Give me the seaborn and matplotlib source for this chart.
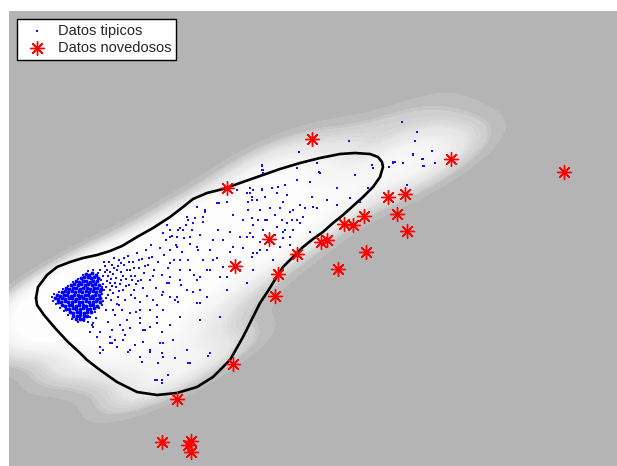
import matplotlib
matplotlib.use('Agg')
import matplotlib.pyplot as plt
from matplotlib.colors import LinearSegmentedColormap
import pandas as pd
import seaborn as sns

# Datos (coordenadas de la figura, eje y hacia abajo)
nucleo_denso = [
    (86,274),(89,275),(92,273),(96,275),
    (81,278),(84,277),(88,277),(91,278),(94,277),(98,278),
    (76,281),(79,282),(83,281),(86,281),(90,282),(93,281),(97,281),
    (71,285),(74,284),(78,285),(81,284),(85,285),(88,284),(92,285),(95,284),(99,285),
    (66,288),(69,289),(73,288),(76,288),(80,289),(83,288),(87,288),(90,289),(94,288),(97,288),(101,289),
    (62,292),(65,291),(68,292),(72,291),(75,292),(79,291),(82,292),(86,291),(89,292),(93,291),(96,292),(100,291),
    (57,295),(60,296),(64,295),(67,295),(71,296),(74,295),(78,295),(81,296),(85,295),(88,295),(92,296),(95,295),(99,295),
    (55,298),(58,299),(62,298),(65,299),(69,298),(72,298),(76,299),(79,298),(83,298),(86,299),(90,298),(93,298),(97,299),(100,298),
    (58,302),(61,302),(65,301),(68,302),(72,302),(75,301),(79,302),(82,302),(86,301),(89,302),(93,302),(96,301),(100,302),
    (62,305),(65,306),(69,305),(72,305),(76,306),(79,305),(83,305),(86,306),(90,305),(93,305),(97,306),
    (66,309),(69,309),(73,308),(76,309),(80,309),(83,308),(87,309),(90,309),(94,308),
    (70,312),(73,313),(77,312),(80,312),(84,313),(87,312),(91,312),
    (73,316),(77,316),(80,315),(84,316),(87,316),
    (76,319),(80,319),(83,319),
]

puntos_tipicos = [
    # transicion
    (100,270),(103,276),(105,266),(107,281),(104,290),(108,295),(102,305),(106,310),
    (110,272),(112,286),(111,300),(109,262),(114,268),(116,278),(113,293),(117,304),
    (115,315),(119,260),(121,272),(120,284),(123,290),(118,297),(124,265),(126,279),
    (125,300),(122,310),(128,256),(130,270),(129,285),(131,295),(127,320),(133,262),
    (135,276),(134,290),(137,253),(139,268),(138,281),(140,302),(136,312),(142,259),
    (144,273),(143,288),(146,250),(148,265),(147,296),(150,280),(152,257),(154,270),
    (151,245),(156,288),(158,262),(160,248),(157,305),(162,275),(164,255),(166,240),
    (163,292),(168,268),(170,250),(172,236),(169,283),(174,260),(176,245),(178,230),
    (175,300),(180,270),(182,252),(184,238),(186,225),(181,285),(188,260),(190,244),
    (192,230),(195,218),(194,275),(198,250),(200,235),(203,222),(205,210),(200,290),
    (108,322),(112,330),(120,325),(96,318),(92,325),(100,332),(88,322),(125,335),
    (115,340),(130,328),(140,318),(145,330),(135,345),
    (104,262),(107,270),(111,279),(114,258),(118,266),(121,280),(110,290),(116,287),
    (124,258),(127,270),(132,280),(106,298),(119,305),(113,310),
    (101,280),(103,284),(105,272),(106,287),(102,294),(108,276),(110,283),(112,265),
    (113,274),(115,283),(117,270),(119,291),(121,263),(123,276),(126,286),(129,262),
    (131,276),(134,268),(136,284),(139,260),(141,280),(145,266),(149,258),(153,276),
    (52,297),(54,294),(53,301),(59,292),(63,289),(68,286),(73,282),(78,279),
    (83,275),(88,271),(93,270),(98,273),(56,304),(60,308),(64,311),(68,315),
    (72,319),(78,322),(84,321),(90,317),(95,312),(99,308),(103,301),(102,287),
    # dispersos
    (217,203),(219,203),(227,202),(237,190),(247,193),(250,188),(262,189),(277,193),
    (287,195),(297,180),(248,210),(260,210),(270,208),(280,208),(290,212),(233,215),
    (243,220),(253,225),(267,220),(277,227),(287,223),(297,220),(230,232),(240,237),
    (250,233),(260,242),(283,232),(290,237),(230,252),(243,248),(257,253),(213,240),
    (210,250),(217,258),(203,260),(223,267),(210,270),(227,277),(200,277),(197,207),
    (203,217),(193,223),(187,217),(183,230),(190,237),(197,247),(177,247),(170,237),
    (163,233),(180,260),(170,263),(190,270),(180,280),(170,277),
    (402,122),(417,132),(415,141),(432,151),(413,155),(422,159),(393,163),(403,163),
    (423,166),(435,163),(407,185),(349,141),(299,152),(372,165),(373,168),(355,175),
    (337,188),(368,188),(262,166),(262,170),(263,173),(297,168),(320,173),(310,182),
    (278,187),(285,185),(272,188),(262,190),(250,193),(252,200),(257,200),(265,197),
    (287,195),(312,197),(327,200),(350,198),(360,202),(283,202),(300,205),(317,208),
    (337,205),(293,210),(305,208),(313,207),(303,217),(292,220),(275,215),(265,220),
    (252,218),(258,220),(282,220),(300,223),(285,230),(293,230),(310,232),(275,235),
    (263,230),(253,237),(283,238),(290,245),(260,250),(268,242),(280,247),(252,257),
    (317,163),(319,172),(393,162),(395,162),(413,154),(389,167),(423,159),(424,166),
    (262,165),(263,170),(253,190),(248,202),(252,197),(205,212),(188,220),(180,228),
    (170,230),(167,225),(177,237),(218,230),(223,240),(210,250),(207,270),(213,260),
    (233,247),(247,237),(253,253),(267,250),(273,260),(253,270),(240,270),(220,277),
    (197,280),(167,283),(187,290),(207,297),(227,290),(247,283),(197,303),(170,297),
    (153,300),(163,310),(180,317),(200,320),(220,317),(157,323),(143,330),(123,330),
    (110,337),(100,347),(112,343),(130,350),(140,357),(150,352),(160,343),(173,340),
    (187,350),(163,357),(210,353),(190,363),(157,380),(162,383),(87,308),(93,323),
    (90,332),(80,317),
    (130,313),(150,310),(157,317),(140,323),(150,327),(157,323),(170,325),(162,332),
    (143,342),(163,343),(110,343),(117,347),(123,340),(128,352),(150,350),(162,353),
    (142,362),(158,363),(175,358),(188,363),(208,356),(155,380),(162,380),(168,375),
    (178,302),(162,295),(177,297),(193,292),(200,303),(135,298),(140,310),(100,353),
    (103,350),(97,337),(93,327),
]

puntos_novedosos = [
    (312,139),(451,159),(564,172),(227,188),(388,197),(405,194),(397,214),(364,216),
    (344,224),(353,225),(407,231),(321,242),(327,240),(269,239),(366,252),(297,254),
    (235,266),(338,269),(278,274),(275,296),(233,364),(177,399),(162,442),(191,441),
    (188,445),(191,452),
]

# frontera de decision (curva cerrada)
frontera = [
    (36,298),(38,287),(47,275),(57,267),(70,262),(83,258),(97,255),(110,251),
    (122,246),(137,237),(153,228),(170,217),(183,207),(193,199),(207,193),(223,189),
    (240,183),(260,176),(280,169),(300,163),(320,158),(340,154),(355,153),(370,154),
    (378,157),(382,162),(383,167),(380,177),(373,187),(363,197),(353,206),(343,215),
    (333,223),(323,232),(313,239),(303,247),(293,257),(283,267),(276,278),(268,291),
    (260,303),(253,317),(243,337),(230,360),(213,377),(197,387),(177,393),(157,395),
    (137,392),(117,382),(100,370),(87,360),(80,353),(68,342),(55,328),(44,315),
    (37,305),(36,298),
]

nucleo = pd.DataFrame(nucleo_denso, columns=['x', 'y'])
tipicos = pd.DataFrame(puntos_tipicos, columns=['x', 'y'])
todos = pd.concat([nucleo, tipicos], ignore_index=True)
novedosos = pd.DataFrame(puntos_novedosos, columns=['x', 'y'])
borde = pd.DataFrame(frontera, columns=['x', 'y'])

sns.set_style('white')
plt.rcParams['font.family'] = ['Liberation Sans', 'DejaVu Sans']

fig = plt.figure(figsize=(6.17, 4.66), dpi=100)
ax = fig.add_axes([9/617, 0, 608/617, 455/466])
ax.set_facecolor('#b4b4b4')

# brillo de fondo: densidad de los datos tipicos
gris = LinearSegmentedColormap.from_list(
    'gris', [(0.0, '#b4b4b4'), (0.004, '#bdbdbd'), (0.012, '#d0d0d0'),
             (0.03, '#e5e5e5'), (0.07, '#f4f4f4'), (0.15, '#fdfdfd'),
             (1.0, '#ffffff')])
sns.kdeplot(data=todos, x='x', y='y', fill=True, levels=400, thresh=0,
            cmap=gris, bw_adjust=1.05, ax=ax, zorder=0, antialiased=False)

ax.plot(borde['x'], borde['y'], color='black', linewidth=1.9, zorder=2)

sns.scatterplot(data=tipicos, x='x', y='y', marker='s', s=3.6, color='#1010ff',
                linewidth=0, ax=ax, zorder=3, label='Datos tipicos')
sns.scatterplot(data=nucleo, x='x', y='y', marker='o', s=8, color='#0000ff',
                linewidth=0, ax=ax, zorder=3)
sns.scatterplot(data=novedosos, x='x', y='y', marker=(8, 2, 0), s=100,
                color='red', edgecolor='red', linewidth=1.0, ax=ax, zorder=4,
                label='Datos novedosos')

ax.set_xlim(9, 617)
ax.set_ylim(466, 11)
ax.set_xticks([])
ax.set_yticks([])
ax.set_xlabel('')
ax.set_ylabel('')
for s in ax.spines.values():
    s.set_visible(False)

leg = ax.legend(loc='upper left', bbox_to_anchor=(8/608, 1 - 8/455),
                borderaxespad=0, fancybox=False, framealpha=1, fontsize=10.5,
                edgecolor='black', handletextpad=0.45, borderpad=0.35,
                labelspacing=0.2, handlelength=2.0)
leg.get_frame().set_linewidth(1.0)

fig.savefig('out.png', dpi=100)
